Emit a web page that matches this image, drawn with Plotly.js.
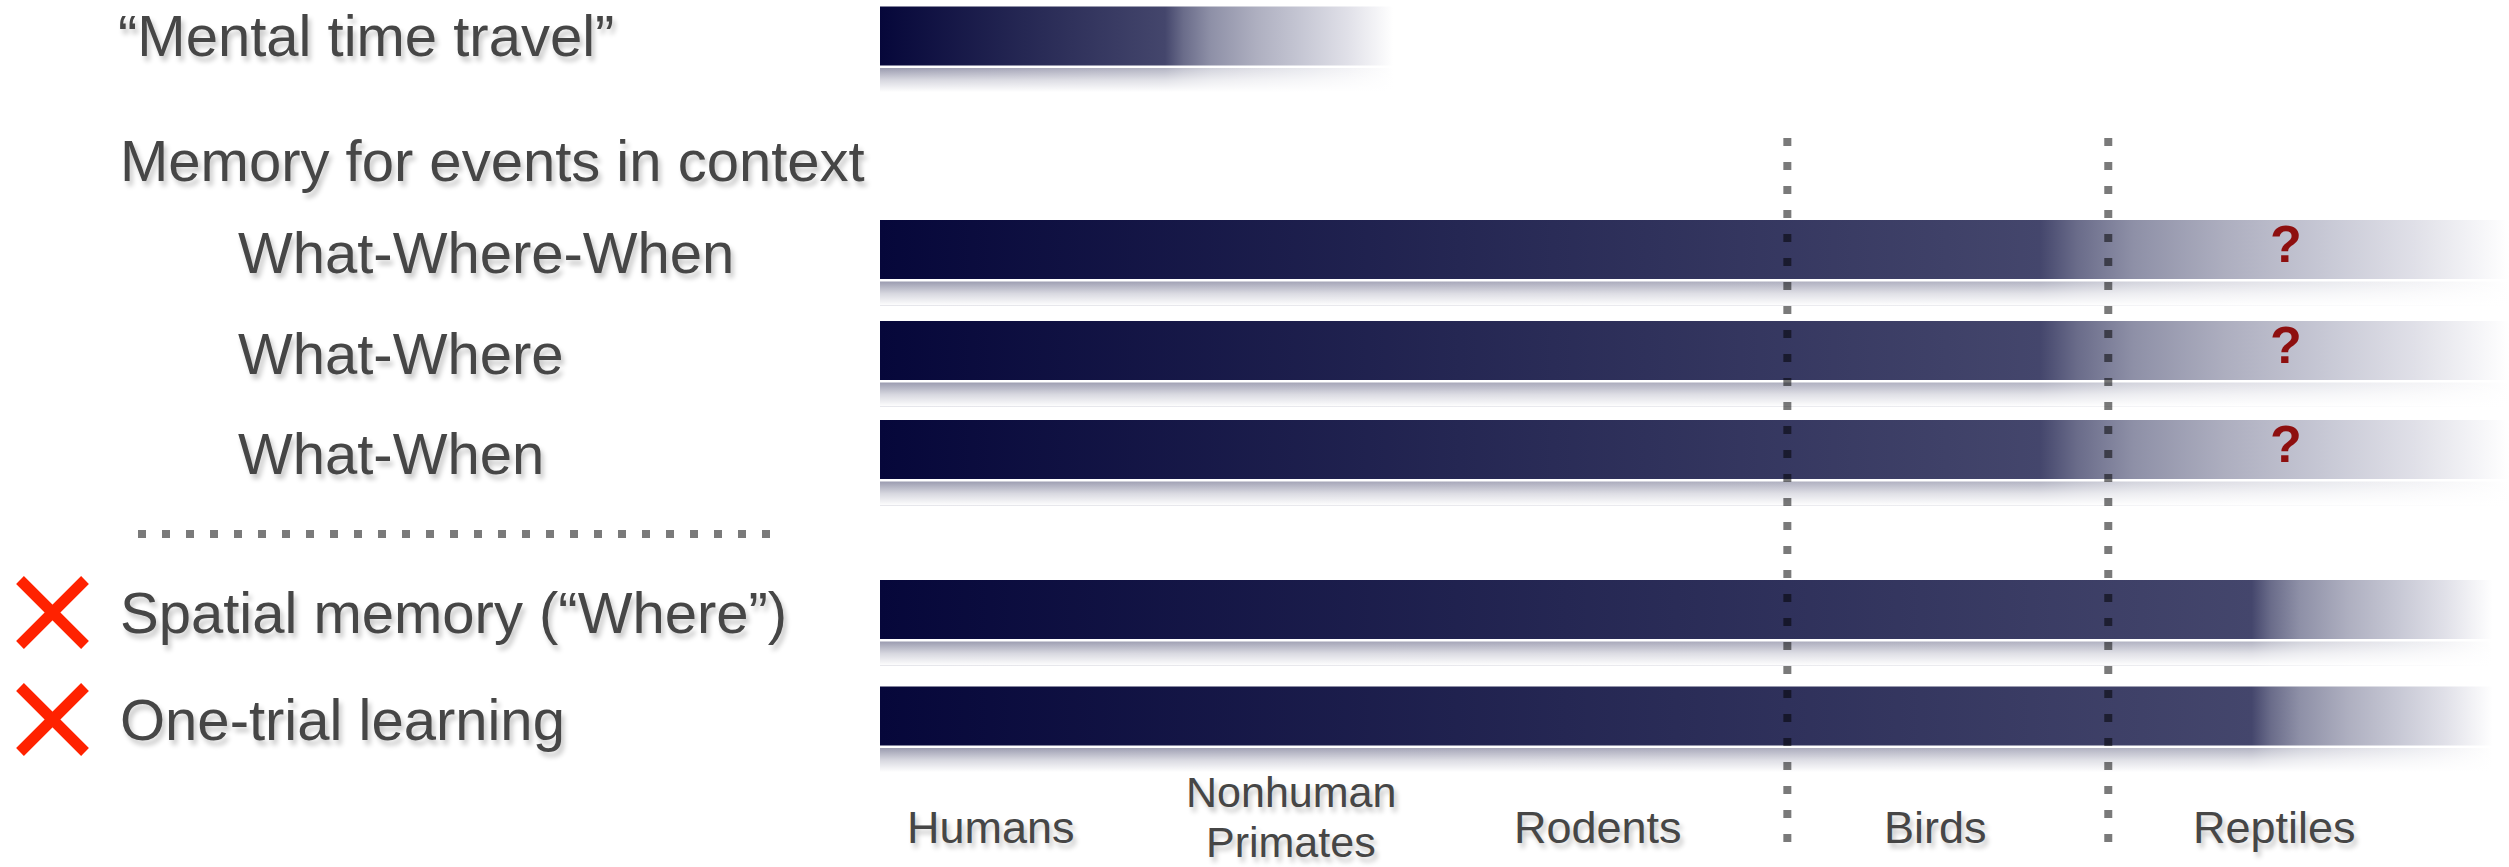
<!DOCTYPE html>
<html><head><meta charset="utf-8">
<script src="https://cdn.plot.ly/plotly-3.0.1.min.js"></script>
<style>html,body{margin:0;padding:0;background:#fff;overflow:hidden}</style>
</head><body><div id="chart" style="width:2509px;height:867px"></div>
<script>
// ---------------- data ----------------
const rowLabels = ['“Mental time travel”', 'What-Where-When', 'What-Where', 'What-When', 'Spatial memory (“Where”)', 'One-trial learning'];
// extent of evidence along the phylogeny axis (0 = humans end, 100 = far end)
const solidTo = [17.5, 71.2, 71.2, 71.2, 84.2, 84.2];
const fadeTo  = [31.5, 100, 100, 100, 99, 99];
const reptileUncertain = [false, true, true, true, false, false];
const notSufficient    = [false, false, false, false, true, true];
const groupHeader = 'Memory for events in context';
const taxa = ['Humans', 'Nonhuman Primates', 'Rodents', 'Birds', 'Reptiles'];
const taxonPos = [6.8, 25.2, 44.1, 64.8, 85.6];
const cladeBreaks = [55.7, 75.4];

// ---------------- layout / style constants ----------------
const W = 2509, H = 867, L = 880;
const rowY   = [0.36, 2.495, 3.505, 4.495, 6.095, 7.16];
const labelY = [0.35, 2.52, 3.53, 4.53, 6.12, 7.19];
const labelPx = [116, 236, 236, 236, 118, 118];
const headerY = 1.60, headerPx = 118;
const BH = 0.296;
const FONT = 'Liberation Sans, Arial, Helvetica, sans-serif';
const TXT = '#464646';
const SHADOW = '3px 5px 5px rgba(0,0,0,0.22)';
const px2paper = p => (p - L) / (W - L);

const DARK = [6, 7, 58], MID = [68, 70, 108];
const fadeProfile = [[0.08, [106, 108, 138]], [0.2, [142, 144, 167]], [0.4, [174, 175, 192]],
                     [0.6, [198, 199, 212]], [0.8, [224, 224, 232]], [1, [255, 255, 255]]];
function mix(a, b, t) { return a.map((v, k) => v + (b[k] - v) * t); }
function barScale(s, lighten) {
  const stops = [];
  const push = (f, c) => {
    if (lighten) c = c.map(v => v * (1 - lighten) + 255 * lighten);
    stops.push([Math.min(1, f), 'rgb(' + c.map(v => Math.round(v)).join(',') + ')']);
  };
  push(0, DARK);
  push(s * 0.5, mix(DARK, MID, 0.5));
  push(s, MID);
  fadeProfile.forEach(([f, c]) => push(s + (1 - s) * f, c));
  return stops;
}

const traces = [];
rowLabels.forEach((lab, i) => {
  const y0 = rowY[i] - BH, y1 = rowY[i] + BH;
  const s = solidTo[i] / fadeTo[i];
  traces.push({
    type: 'scatter', name: lab, mode: 'none', fill: 'toself', hoverinfo: 'skip',
    x: [0, fadeTo[i], fadeTo[i], 0, 0], y: [y0, y0, y1, y1, y0],
    fillgradient: { type: 'horizontal', start: 0, stop: fadeTo[i], colorscale: barScale(s, 0) }
  });
  const r0 = y1 + 0.025, r1 = r0 + 0.24;
  traces.push({
    type: 'scatter', mode: 'none', fill: 'toself', hoverinfo: 'skip', showlegend: false,
    x: [0, fadeTo[i], fadeTo[i], 0, 0], y: [r0, r0, r1, r1, r0],
    fillgradient: { type: 'horizontal', start: 0, stop: fadeTo[i], colorscale: barScale(s, 0.6) }
  });
  traces.push({
    type: 'scatter', mode: 'none', fill: 'toself', hoverinfo: 'skip', showlegend: false,
    x: [0, 100, 100, 0, 0], y: [r0, r0, r1, r1, r0],
    fillgradient: { type: 'vertical', start: r0, stop: r1,
      colorscale: [[0, 'rgba(255,255,255,0)'], [0.5, 'rgba(255,255,255,0.6)'], [1, 'rgba(255,255,255,1)']] }
  });
});

const annotations = [];
const addText = (text, x, xref, y, opts) => annotations.push(Object.assign({
  text, x, xref, y, yref: 'y', showarrow: false, xanchor: 'left', yanchor: 'middle',
  font: { family: FONT, size: 58, color: TXT, shadow: SHADOW }
}, opts || {}));

rowLabels.forEach((lab, i) => addText(lab, px2paper(labelPx[i]), 'paper', labelY[i]));
addText(groupHeader, px2paper(headerPx), 'paper', headerY);

rowLabels.forEach((lab, i) => {
  if (reptileUncertain[i]) {
    annotations.push({
      text: '?', x: taxonPos[4], xref: 'x', y: rowY[i], yref: 'y', showarrow: false,
      xanchor: 'center', yanchor: 'middle', xshift: 12, yshift: 6,
      font: { family: FONT, size: 52, color: '#8e0f0f', weight: 'bold' }
    });
  }
});

taxa.forEach((t, i) => {
  const words = t.split(' ');
  const ys = words.length === 2 ? [7.92, 8.42] : [8.27];
  words.forEach((w, k) => annotations.push({
    text: w, x: taxonPos[i], xref: 'x', y: ys[k], yref: 'y', showarrow: false,
    xanchor: 'center', yanchor: 'middle',
    font: { family: FONT, size: words.length === 2 ? 43 : 45, color: TXT, shadow: SHADOW }
  }));
});

const DOT = { color: 'rgba(0,0,0,0.52)', width: 8, dash: '8px,16px' };
const shapes = [];
cladeBreaks.forEach(b => shapes.push({
  type: 'line', xref: 'x', yref: 'y', x0: b, x1: b, y0: 1.38, y1: 8.43, line: DOT, layer: 'above'
}));
shapes.push({ type: 'line', xref: 'paper', yref: 'y', x0: px2paper(138), x1: px2paper(772),
  y0: 5.34, y1: 5.34, line: DOT, layer: 'above' });
rowLabels.forEach((lab, i) => {
  if (notSufficient[i]) {
    const c = labelY[i], xa = px2paper(20), xb = px2paper(85);
    const red = { color: '#ff2200', width: 11 };
    shapes.push({ type: 'line', xref: 'paper', yref: 'y', x0: xa, x1: xb, y0: c - 0.32, y1: c + 0.33, line: red, layer: 'above' });
    shapes.push({ type: 'line', xref: 'paper', yref: 'y', x0: xb, x1: xa, y0: c - 0.32, y1: c + 0.33, line: red, layer: 'above' });
  }
});

const layout = {
  width: W, height: H,
  margin: { l: L, r: 0, t: 0, b: 0, pad: 0 },
  paper_bgcolor: '#ffffff', plot_bgcolor: '#ffffff',
  showlegend: false, hovermode: false,
  xaxis: { range: [0, 100], visible: false, fixedrange: true },
  yaxis: { range: [8.67, 0], visible: false, fixedrange: true },
  annotations, shapes
};
Plotly.newPlot('chart', traces, layout, { staticPlot: true, displayModeBar: false });
</script>
</body></html>
